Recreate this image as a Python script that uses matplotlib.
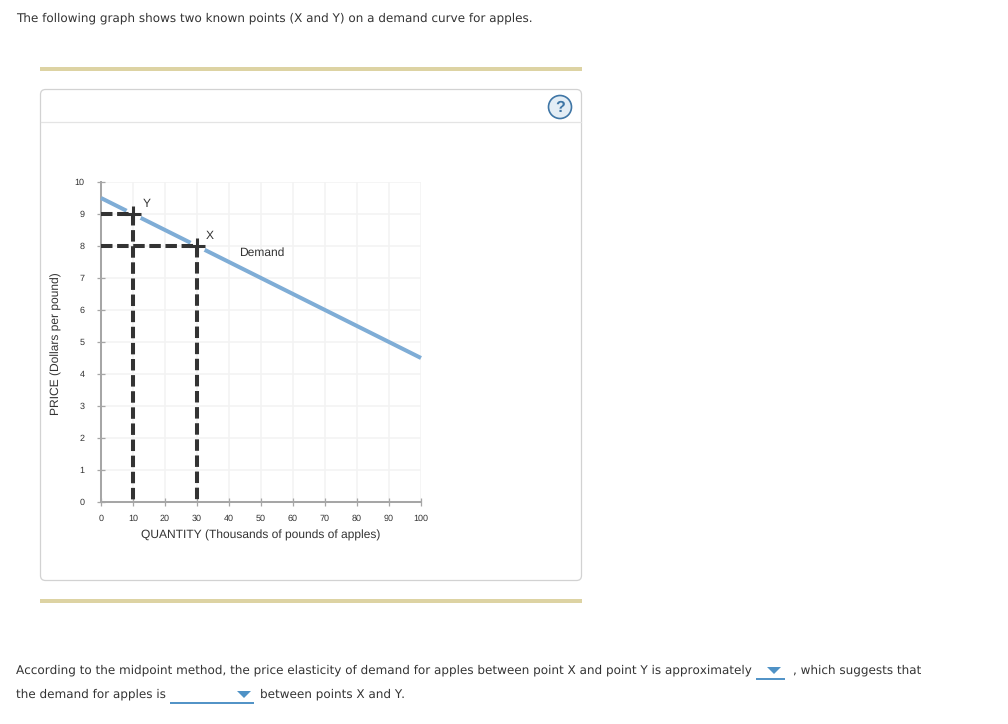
import matplotlib
matplotlib.use("Agg")
import matplotlib.pyplot as plt
from matplotlib.patches import FancyBboxPatch, Rectangle, Circle, Polygon

plt.rcParams["text.hinting"] = "no_hinting"
plt.rcParams["text.hinting_factor"] = 1

quantity_ticks = list(range(0, 101, 10))
price_ticks = list(range(0, 11))
demand_q = [0, 100]
demand_p = [9.5, 4.5]
point_names = ["Y", "X"]
point_q = [10, 30]
point_p = [9, 8]

W, H = 1008, 724
fig = plt.figure(figsize=(W / 100, H / 100), dpi=100, facecolor="white")

# overlay in pixel coordinates for page furniture
bg = fig.add_axes([0, 0, 1, 1], zorder=0)
bg.set_xlim(0, W)
bg.set_ylim(H, 0)
bg.axis("off")

page_font = "DejaVu Sans"
tc = "#333333"
fs = 8.95
bg.text(16, 18.5, "The following graph shows two known points (X and Y) on a demand curve for apples.",
        fontsize=fs, color=tc, family=page_font, va="center", ha="left")
bg.text(16, 670.5, "According to the midpoint method, the price elasticity of demand for apples between point X and point Y is approximately",
        fontsize=fs, color=tc, family=page_font, va="center", ha="left")
bg.text(793, 670.5, ", which suggests that", fontsize=fs, color=tc, family=page_font, va="center", ha="left")
bg.text(16, 694.5, "the demand for apples is", fontsize=fs, color=tc, family=page_font, va="center", ha="left")
bg.text(260, 694.5, "between points X and Y.", fontsize=fs, color=tc, family=page_font, va="center", ha="left")

for y in (67, 599):
    bg.add_patch(Rectangle((40, y), 542, 4, fc="#ddd3a3", ec="none"))

bg.add_patch(FancyBboxPatch((40.5, 89.5), 541, 491, boxstyle="round,pad=0,rounding_size=5",
                            fc="white", ec="#d2d2d2", lw=0.9))
bg.plot([41, 581], [121.5, 121.5], color="#e4e4e4", lw=0.9)

bg.add_patch(Circle((560, 107), 11.5, fc="#e3edf5", ec="#3f76a6", lw=1.2))
bg.text(560, 107.5, "?", fontsize=11.5, fontweight="bold", color="#3f76a6",
        family="Liberation Sans", ha="center", va="center")

# dropdown controls
for x0, x1, y, cx, cy in [(756, 785, 679, 774, 670.5), (170, 254, 703, 244, 694.5)]:
    bg.plot([x0, x1], [y, y], color="#4f92c6", lw=1.4, solid_capstyle="butt")
    bg.add_patch(Polygon([(cx - 7, cy - 3.5), (cx + 7, cy - 3.5), (cx, cy + 3.5)], fc="#4f92c6", ec="none"))

# chart
ax = fig.add_axes([101 / W, 1 - 502 / H, 320 / W, 320 / H], zorder=1)
ax.patch.set_alpha(0)
ax.set_xlim(0, 100)
ax.set_ylim(0, 10)
ax.set_xticks(quantity_ticks)
ax.set_yticks(price_ticks)
ax.grid(True, color="#f3f3f3", lw=1.2, zorder=0)
ax.set_axisbelow(True)
for s in ("top", "right"):
    ax.spines[s].set_visible(False)
for s in ("left", "bottom"):
    ax.spines[s].set_color("#a6a6a6")
    ax.spines[s].set_linewidth(1.45)
ax.tick_params(axis="both", direction="inout", length=5.8, width=0.9, color="#a6a6a6",
               labelsize=6.4, labelcolor=tc)
ax.tick_params(axis="y", pad=9)
ax.tick_params(axis="x", pad=6)
for lab in ax.get_xticklabels() + ax.get_yticklabels():
    lab.set_family("Liberation Sans")

ax.plot(demand_q, demand_p, color="#7fadd6", lw=2.9, solid_capstyle="butt", zorder=3, clip_on=False)

dash = (0, (2.85, 1.15))
dark = "#333333"
for q, p in zip(point_q, point_p):
    ax.plot([0, q], [p, p], color=dark, lw=2.9, linestyle=dash, dash_capstyle="butt", zorder=4)
    ax.plot([q, q], [p, 0], color=dark, lw=2.9, linestyle=dash, dash_capstyle="butt", zorder=4)
    ax.plot([q], [p], marker="o", ms=11.5, mfc="white", mec="none", zorder=3.5)
    ax.plot([q], [p], marker="+", ms=11, mew=2.2, color=dark, zorder=5)

ax.annotate(point_names[0], (point_q[0], point_p[0]), xytext=(7, 3.2), textcoords="offset points",
            fontsize=8.6, color=tc, family="Liberation Sans", ha="left", va="bottom")
ax.annotate(point_names[1], (point_q[1], point_p[1]), xytext=(6.5, 3.4), textcoords="offset points",
            fontsize=8.6, color=tc, family="Liberation Sans", ha="left", va="bottom")
ax.text(50.2, 7.79, "Demand", fontsize=8.6, color=tc, family="Liberation Sans", ha="center", va="center")

bg.text(261, 535.5, "QUANTITY (Thousands of pounds of apples)", fontsize=8.65, color=tc,
        family="Liberation Sans", ha="center", va="center")
bg.text(56, 344, "PRICE (Dollars per pound)", fontsize=8.65, color=tc, rotation=90,
        family="Liberation Sans", ha="center", va="center")

fig.savefig("out.png", dpi=100)
